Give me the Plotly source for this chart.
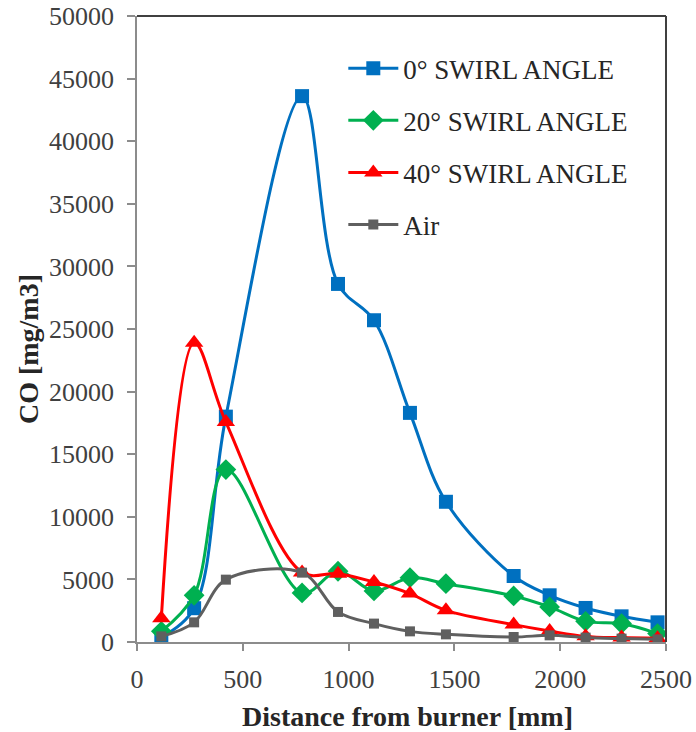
import plotly.graph_objects as go

# Measurement stations along the furnace axis [mm]
distance = [115, 270, 420, 780, 950, 1120, 1290, 1460, 1780, 1950, 2120, 2290, 2460]

# CO concentration [mg/m3] for each burner configuration
co_swirl_0 = [400, 2700, 18000, 43600, 28600, 25700, 18300, 11200, 5270, 3730, 2720, 2050, 1570]
co_swirl_20 = [850, 3730, 13770, 3920, 5650, 4080, 5140, 4660, 3680, 2800, 1650, 1470, 670]
co_swirl_40 = [1900, 23900, 17570, 5560, 5460, 4790, 3870, 2530, 1390, 880, 450, 350, 300]
co_air = [450, 1570, 4980, 5540, 2400, 1470, 850, 610, 400, 530, 350, 270, 210]

series_names = ["0° SWIRL ANGLE", "20° SWIRL ANGLE", "40° SWIRL ANGLE", "Air"]
x_ticks = [0, 500, 1000, 1500, 2000, 2500]
y_ticks = list(range(0, 50001, 5000))

FONT = "Liberation Serif"

styles = [
    dict(color="#0070C0", symbol="square", size=14, width=3),
    dict(color="#00B050", symbol="diamond", size=16, width=3),
    dict(color="#FF0000", symbol="triangle-up", size=16, width=3),
    dict(color="#5F5F5F", symbol="square", size=10, width=3),
]

fig = go.Figure()
for i, (name, values, st) in enumerate(zip(series_names,
                                          [co_swirl_0, co_swirl_20, co_swirl_40, co_air],
                                          styles)):
    fig.add_trace(go.Scatter(
        x=distance, y=values, name=name, mode="lines+markers",
        legendgroup=f"g{i}",
        line=dict(color=st["color"], width=st["width"], shape="spline", smoothing=1),
        marker=dict(color=st["color"], symbol=st["symbol"], size=st["size"],
                    line=dict(width=0)),
    ))

axis_grey = "#8C8C8C"
title_font = dict(family=FONT, size=28, color="#262626")
tick_font = dict(family=FONT, size=26, color="#404040")

fig.update_layout(
    width=696, height=732,
    margin=dict(l=137, r=30, t=16, b=90),
    paper_bgcolor="white", plot_bgcolor="white",
    font=dict(family=FONT, size=26, color="#404040"),
    showlegend=True,
    legend=dict(
        x=0.39, y=0.955, xanchor="left", yanchor="top",
        bgcolor="rgba(0,0,0,0)", borderwidth=0,
        traceorder="grouped", tracegroupgap=14,
        font=dict(family=FONT, size=27, color="#262626"),
        itemwidth=50,
    ),
    xaxis=dict(
        range=[0, 2500], tickvals=x_ticks, ticktext=[str(v) for v in x_ticks],
        showgrid=False, zeroline=False, automargin=False,
        showline=True, linecolor=axis_grey, linewidth=1.5,
        ticks="outside", ticklen=7, tickcolor=axis_grey, tickwidth=1.5,
        tickfont=tick_font, ticklabelstandoff=6,
    ),
    yaxis=dict(
        range=[0, 50000], tickvals=y_ticks, ticktext=[str(v) for v in y_ticks],
        showgrid=False, zeroline=False, automargin=False,
        showline=True, linecolor=axis_grey, linewidth=1.5,
        ticks="outside", ticklen=8, tickcolor=axis_grey, tickwidth=1.5,
        tickfont=tick_font, ticklabelstandoff=8,
    ),
    annotations=[
        dict(text="<b>Distance from burner [mm]</b>", xref="paper", yref="paper",
             x=0.511, y=-0.119, xanchor="center", yanchor="middle",
             showarrow=False, font=title_font),
        dict(text="<b>CO [mg/m3]</b>", xref="paper", yref="paper",
             x=-0.206, y=0.468, xanchor="center", yanchor="middle",
             textangle=-90, showarrow=False, font=title_font),
    ],
    shapes=[
        dict(type="line", xref="paper", yref="paper", x0=0, x1=1, y0=1, y1=1,
             line=dict(color="#404040", width=2)),
        dict(type="line", xref="paper", yref="paper", x0=1, x1=1, y0=0, y1=1,
             line=dict(color="#404040", width=2)),
    ],
)

fig.write_html("out.html")
